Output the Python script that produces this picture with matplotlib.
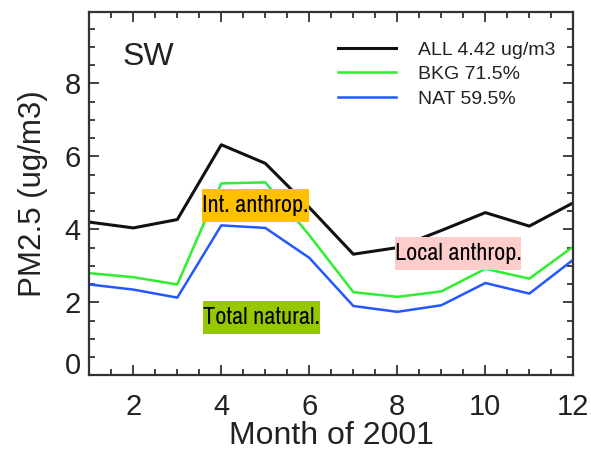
import matplotlib
matplotlib.use("Agg")
import matplotlib.pyplot as plt
from matplotlib.patches import Rectangle
from matplotlib.transforms import ScaledTranslation
from matplotlib import font_manager as fm

plt.rcParams['font.family'] = ['Liberation Sans', 'DejaVu Sans']

months = [1, 2, 3, 4, 5, 6, 7, 8, 9, 10, 11, 12]
all_vals = [4.20, 4.04, 4.27, 6.32, 5.81, 4.60, 3.32, 3.50, 3.97, 4.46, 4.09, 4.73]
bkg_vals = [2.80, 2.69, 2.49, 5.26, 5.29, 3.84, 2.28, 2.15, 2.30, 2.92, 2.65, 3.53]
nat_vals = [2.49, 2.35, 2.13, 4.11, 4.04, 3.22, 1.90, 1.74, 1.92, 2.53, 2.24, 3.17]

series_labels = ['ALL 4.42 ug/m3', 'BKG 71.5%', 'NAT 59.5%']
series_colors = ['#111111', '#2EEE2E', '#2357FF']
region = 'SW'
boxes = [
    ('Int. anthrop.', '#FFC000', (0.233, 0.423, 0.221, 0.090)),
    ('Total natural.', '#95C800', (0.235, 0.114, 0.242, 0.092)),
    ('Local anthrop.', '#FFCCCC', (0.632, 0.290, 0.260, 0.090)),
]

# condensed face for the box captions, if one is available
narrow = None
for f in fm.fontManager.ttflist:
    if 'Narrow' in f.name or (f.stretch in ('condensed', 'semi-condensed')
                              and f.style == 'normal' and f.weight in (400, 'normal')):
        narrow = f.name
        if 'Narrow' in f.name:
            break
box_family = [narrow, 'Liberation Sans'] if narrow else ['Liberation Sans']
box_stretch = 'condensed' if narrow else 'normal'
box_size = 17.5 if narrow else 14

fig = plt.figure(figsize=(5.91, 4.53), dpi=100)
ax = fig.add_axes([0.1511, 0.1715, 0.8190, 0.8013])

for vals, lab, col, lw in zip([all_vals, bkg_vals, nat_vals], series_labels,
                              series_colors, [2.2, 1.8, 1.8]):
    ax.plot(months, vals, color=col, lw=lw, label=lab, zorder=2)

ax.set_xlim(1, 12)
ax.set_ylim(0, 9.95)
ax.set_xticks([2, 4, 6, 8, 10, 12])
ax.set_xticks([x / 2 for x in range(2, 24)], minor=True)
ax.set_yticks([0, 2, 4, 6, 8])
ax.set_yticks([y / 2 for y in range(0, 20)], minor=True)

for s in ax.spines.values():
    s.set_linewidth(1.6)
    s.set_color('#333333')

ax.tick_params(which='both', direction='in', top=True, right=True,
               color='#333333', width=1.3, labelcolor='#222222')
ax.tick_params(which='major', length=7, labelsize=21)
ax.tick_params(which='minor', length=4)
ax.tick_params(axis='x', which='major', pad=13)
ax.tick_params(axis='y', which='major', pad=6)

ax.set_xlabel('Month of 2001', fontsize=23, color='#222222', labelpad=0)
ax.set_ylabel('PM2.5 (ug/m3)', fontsize=22.5, color='#222222', labelpad=12)

# nudge the "0" label upward
fig.canvas.draw()
zero_lab = ax.get_yticklabels()[0]
zero_lab.set_transform(zero_lab.get_transform() +
                       ScaledTranslation(0, 12 / 100, fig.dpi_scale_trans))

ax.text(0.068, 0.877, region, transform=ax.transAxes, fontsize=23,
        color='#222222', ha='left', va='center')

for txt, col, (x0, y0, w, h) in boxes:
    ax.add_patch(Rectangle((x0, y0), w, h, transform=ax.transAxes,
                           facecolor=col, edgecolor='none', zorder=4))
    ax.text(x0 + w / 2, y0 + h / 2, txt, transform=ax.transAxes,
            fontsize=box_size, ha='center', va='center', color='black',
            family=box_family, fontstretch=box_stretch, zorder=5)

leg = ax.legend(loc='upper left', bbox_to_anchor=(0.514, 0.921),
                frameon=False, fontsize=14, handlelength=3.0,
                handletextpad=1.1, labelspacing=0.36, borderpad=0,
                borderaxespad=0)
for t in leg.get_texts():
    t.set_color('#222222')

fig.savefig('out.png', dpi=100)
